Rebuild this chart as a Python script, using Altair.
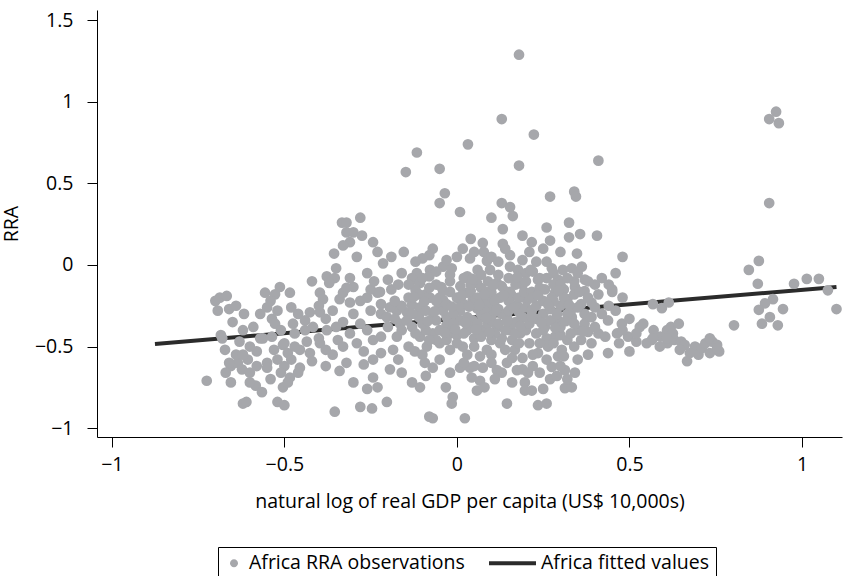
import altair as alt
import pandas as pd

# (log GDP per capita, RRA) observations
obs_points = [
    # x < -0.45
    (-0.725, -0.71), (-0.687, -0.20), (-0.667, -0.19), (-0.693, -0.28), (-0.66, -0.27),
    (-0.617, -0.30), (-0.65, -0.35), (-0.684, -0.43), (-0.68, -0.45), (-0.672, -0.52),
    (-0.655, -0.62), (-0.635, -0.60), (-0.623, -0.64), (-0.606, -0.58), (-0.58, -0.53),
    (-0.655, -0.72), (-0.62, -0.85), (-0.61, -0.84), (-0.583, -0.74), (-0.565, -0.78),
    (-0.52, -0.84), (-0.556, -0.17), (-0.527, -0.18), (-0.55, -0.26), (-0.536, -0.33),
    (-0.527, -0.36), (-0.562, -0.45), (-0.536, -0.44), (-0.55, -0.60), (-0.52, -0.58),
    (-0.55, -0.63), (-0.504, -0.75), (-0.504, -0.49), (-0.513, -0.135), (-0.484, -0.17),
    (-0.475, -0.36), (-0.50, -0.48), (-0.49, -0.54), (-0.50, -0.62), (-0.484, -0.69),
    (-0.49, -0.72), (-0.50, -0.86), (-0.455, -0.52), (-0.455, -0.63), (-0.51, -0.40),
    (-0.47, -0.42), (-0.46, -0.30),
    (-0.70, -0.22), (-0.64, -0.25), (-0.62, -0.40), (-0.63, -0.47), (-0.60, -0.50),
    (-0.64, -0.55), (-0.66, -0.60), (-0.60, -0.66), (-0.58, -0.62), (-0.57, -0.45),
    (-0.59, -0.38), (-0.57, -0.30), (-0.54, -0.22), (-0.52, -0.28), (-0.53, -0.52),
    (-0.54, -0.70), (-0.51, -0.66), (-0.60, -0.72), (-0.67, -0.66), (-0.62, -0.55),
    (-0.48, -0.58), (-0.47, -0.50), (-0.46, -0.66), (-0.48, -0.26), (-0.44, -0.40),
    (-0.44, -0.34),
    # -0.45 .. -0.15
    (-0.435, -0.47), (-0.426, -0.54), (-0.42, -0.59), (-0.426, -0.29), (-0.417, -0.38),
    (-0.397, -0.29), (-0.397, -0.17), (-0.388, -0.21), (-0.397, -0.48), (-0.377, -0.40),
    (-0.345, -0.46), (-0.354, -0.90), (-0.34, -0.21), (-0.31, -0.23), (-0.33, -0.17),
    (-0.26, -0.20), (-0.23, -0.17), (-0.22, -0.30), (-0.203, -0.32), (-0.174, -0.28),
    (-0.145, -0.29), (-0.165, -0.36), (-0.243, -0.46), (-0.22, -0.44), (-0.174, -0.44),
    (-0.185, -0.52), (-0.22, -0.54), (-0.27, -0.61), (-0.243, -0.58), (-0.194, -0.64),
    (-0.243, -0.69), (-0.23, -0.75), (-0.26, -0.76), (-0.28, -0.87), (-0.246, -0.88),
    (-0.203, -0.84), (-0.194, -0.26), (-0.333, 0.26), (-0.32, 0.26), (-0.28, 0.29),
    (-0.32, 0.20), (-0.30, 0.20), (-0.275, 0.18), (-0.31, 0.14), (-0.33, 0.12),
    (-0.356, 0.07), (-0.243, 0.14), (-0.214, 0.01), (-0.19, 0.05), (-0.154, 0.08),
    (-0.377, -0.07), (-0.354, -0.08), (-0.37, -0.11), (-0.30, -0.135), (-0.32, -0.14),
    (-0.25, -0.15), (-0.223, -0.165), (-0.13, -0.08),
    (-0.42, -0.10), (-0.40, -0.25), (-0.38, -0.33), (-0.36, -0.28), (-0.35, -0.38),
    (-0.33, -0.35), (-0.36, -0.55), (-0.33, -0.50), (-0.31, -0.42), (-0.30, -0.30),
    (-0.28, -0.22), (-0.28, -0.36), (-0.26, -0.40), (-0.25, -0.28), (-0.29, -0.48),
    (-0.27, -0.53), (-0.22, -0.24), (-0.20, -0.38), (-0.18, -0.33), (-0.16, -0.40),
    (-0.16, -0.25), (-0.19, -0.15), (-0.24, -0.10), (-0.26, -0.05), (-0.31, -0.08),
    (-0.35, -0.02), (-0.29, 0.05), (-0.23, 0.08), (-0.40, -0.45), (-0.38, -0.62),
    (-0.34, -0.65), (-0.32, -0.60), (-0.30, -0.72), (-0.17, -0.58), (-0.16, -0.66),
    (-0.14, -0.50), (-0.38, -0.52),
    # centre, upper part
    (0.18, 1.29), (0.13, 0.895), (0.223, 0.80), (0.032, 0.74), (-0.116, 0.69),
    (-0.05, 0.59), (-0.148, 0.57), (0.18, 0.61), (0.41, 0.64), (-0.035, 0.44),
    (-0.05, 0.38), (0.009, 0.325), (0.13, 0.38), (0.154, 0.355), (0.162, 0.30),
    (0.10, 0.29), (0.133, 0.22), (0.075, 0.135), (0.133, 0.13), (0.078, 0.08),
    (0.017, 0.10), (-0.07, 0.10), (-0.08, 0.06), (0.154, 0.06), (0.217, 0.14),
    (0.087, 0.025), (0.038, 0.04), (-0.04, -0.01), (-0.015, -0.02), (0.096, -0.03),
    (0.154, -0.01), (0.177, -0.03), (0.20, -0.05), (-0.116, -0.05), (-0.078, -0.03),
    (-0.127, -0.09), (0.03, -0.07), (0.058, -0.11), (0.116, -0.11), (-0.05, -0.20),
    (-0.107, -0.11),
    (-0.03, 0.03), (0.05, 0.08), (0.10, 0.05), (0.14, 0.10), (0.21, 0.08),
    (0.23, 0.02), (0.25, 0.10), (-0.10, 0.04), (0.04, 0.16), (0.19, 0.18),
    # centre, lower part
    (-0.13, -0.245), (-0.122, -0.53), (-0.093, -0.60), (-0.07, -0.63), (-0.13, -0.72),
    (-0.107, -0.75), (-0.08, -0.93), (-0.07, -0.94), (0.023, -0.94), (-0.032, -0.75),
    (-0.012, -0.81), (-0.015, -0.85), (0.009, -0.63), (0.043, -0.69), (0.058, -0.77),
    (0.067, -0.71), (0.075, -0.63), (0.038, -0.63), (0.116, -0.645), (0.145, -0.60),
    (0.174, -0.645), (0.197, -0.72), (0.197, -0.77), (0.145, -0.85), (0.087, -0.52),
    (0.125, -0.48), (0.168, -0.52), (0.067, -0.56), (0.017, -0.50), (-0.02, -0.52),
    (-0.05, -0.48), (-0.087, -0.50), (-0.107, -0.44), (-0.07, -0.42), (-0.02, -0.42),
    (0.03, -0.40), (0.075, -0.40), (0.116, -0.38), (0.154, -0.40), (0.183, -0.42),
    (-0.145, -0.34), (-0.107, -0.29), (-0.07, -0.325), (-0.03, -0.32), (0.009, -0.34),
    (0.046, -0.34), (0.075, -0.32), (0.104, -0.295), (0.145, -0.32), (0.174, -0.245),
    (0.203, -0.215), (0.125, -0.20), (0.087, -0.215), (0.046, -0.215), (0.009, -0.215),
    (-0.04, -0.215), (-0.078, -0.20), (-0.107, -0.26), (0.009, -0.28), (0.058, -0.265),
    (-0.05, -0.26), (-0.02, -0.165), (0.03, -0.17), (0.087, -0.165), (0.154, -0.165),
    (-0.12, -0.15), (-0.09, -0.18), (-0.06, -0.12), (-0.02, -0.10), (0.01, -0.13),
    (0.04, -0.16), (0.07, -0.14), (0.10, -0.17), (0.13, -0.13), (0.16, -0.19),
    (0.19, -0.12), (-0.04, -0.28), (0.02, -0.24), (0.06, -0.20), (0.09, -0.25),
    (0.12, -0.27), (0.15, -0.22), (0.18, -0.29), (-0.13, -0.38), (-0.09, -0.40),
    (-0.03, -0.37), (0.00, -0.43), (0.05, -0.45), (0.09, -0.36), (0.13, -0.45),
    (0.17, -0.35), (0.20, -0.40), (-0.11, -0.32), (-0.06, -0.46), (0.03, -0.55),
    (0.10, -0.55), (0.14, -0.52), (0.19, -0.57), (0.21, -0.48), (-0.01, -0.30),
    (0.04, -0.38), (0.07, -0.30), (0.11, -0.42), (0.16, -0.46), (-0.14, -0.20),
    (-0.17, -0.12), (-0.20, -0.09), (-0.18, -0.22), (-0.16, -0.05), (-0.12, 0.02),
    (-0.08, -0.07), (0.00, 0.05), (0.06, -0.03), (0.12, 0.02), (0.19, 0.03),
    (-0.14, -0.12), (-0.13, -0.30), (-0.12, -0.42), (-0.11, -0.18), (-0.10, -0.36),
    (-0.10, -0.08), (-0.09, -0.28), (-0.08, -0.46), (-0.08, -0.14), (-0.06, -0.22),
    (-0.06, -0.34), (-0.06, -0.04), (-0.05, -0.40), (-0.04, -0.16), (-0.03, -0.24),
    (-0.03, -0.46), (-0.02, -0.06), (-0.01, -0.36), (0.00, -0.20), (0.00, -0.48),
    (0.01, -0.26), (0.02, -0.08), (0.02, -0.42), (0.03, -0.32), (0.04, -0.12),
    (0.05, -0.24), (0.05, -0.50), (0.06, -0.36), (0.07, -0.06), (0.07, -0.44),
    (0.08, -0.18), (0.08, -0.28), (0.09, -0.10), (0.10, -0.34), (0.10, -0.46),
    (0.11, -0.22), (0.12, -0.06), (0.12, -0.36), (0.13, -0.30), (0.14, -0.16),
    (0.14, -0.40), (0.15, -0.08), (0.15, -0.28), (0.16, -0.36), (0.17, -0.12),
    (0.17, -0.42), (0.18, -0.20), (0.18, -0.48), (0.19, -0.32), (0.20, -0.26),
    (0.20, -0.10),
    (-0.125, -0.195), (-0.095, -0.225), (-0.085, -0.345), (-0.065, -0.285),
    (-0.045, -0.135), (-0.035, -0.415), (-0.015, -0.255), (-0.005, -0.395),
    (0.015, -0.185), (0.025, -0.355), (0.035, -0.255), (0.045, -0.085),
    (0.055, -0.395), (0.065, -0.245), (0.085, -0.325), (0.095, -0.415),
    (0.105, -0.125), (0.115, -0.275), (0.135, -0.185), (0.145, -0.345),
    (0.165, -0.265), (0.175, -0.075), (0.185, -0.375), (0.195, -0.165),
    (-0.10, -0.55), (-0.05, -0.58), (-0.02, -0.66), (0.02, -0.60), (0.05, -0.62),
    (0.10, -0.60), (0.13, -0.66), (0.16, -0.57), (0.19, -0.64), (0.11, -0.70),
    (0.08, -0.75), (0.16, -0.72), (-0.09, -0.68),
    # 0.2 .. 0.55
    (0.27, 0.42), (0.34, 0.45), (0.345, 0.42), (0.26, 0.23), (0.325, 0.26),
    (0.27, 0.15), (0.325, 0.17), (0.357, 0.19), (0.406, 0.18), (0.348, 0.07),
    (0.48, 0.05), (0.214, -0.03), (0.275, -0.02), (0.307, -0.03), (0.333, -0.02),
    (0.362, -0.01), (0.235, -0.09), (0.293, -0.09), (0.371, -0.09), (0.42, -0.08),
    (0.45, -0.15), (0.40, -0.12), (0.217, -0.165), (0.255, -0.15), (0.342, -0.135),
    (0.284, -0.17), (0.217, -0.28), (0.438, -0.34), (0.478, -0.36), (0.53, -0.38),
    (0.565, -0.46), (0.496, -0.44), (0.464, -0.42), (0.41, -0.42), (0.39, -0.48),
    (0.438, -0.54), (0.45, -0.165), (0.38, -0.41), (0.313, -0.755), (0.333, -0.75),
    (0.235, -0.86), (0.26, -0.85), (0.342, -0.66), (0.313, -0.645), (0.275, -0.625),
    (0.217, -0.77), (0.206, -0.66), (0.35, -0.58), (0.293, -0.56), (0.235, -0.54),
    (0.264, -0.50), (0.304, -0.52), (0.32, -0.46), (0.284, -0.44), (0.35, -0.40),
    (0.255, -0.38), (0.293, -0.34), (0.333, -0.32), (0.37, -0.30), (0.39, -0.23),
    (0.32, -0.21), (0.275, -0.20), (0.23, -0.25), (0.25, -0.30), (0.27, -0.27),
    (0.30, -0.25), (0.33, -0.28), (0.36, -0.24), (0.24, -0.08), (0.28, -0.12),
    (0.31, -0.15), (0.34, -0.10), (0.37, -0.16), (0.23, -0.42), (0.26, -0.45),
    (0.30, -0.43), (0.34, -0.50), (0.22, -0.55), (0.26, -0.58), (0.30, -0.62),
    (0.38, -0.55), (0.26, 0.02), (0.30, 0.08), (0.52, -0.47),
    (0.21, -0.36), (0.22, -0.20), (0.22, -0.04), (0.23, -0.33), (0.24, -0.14),
    (0.24, -0.48), (0.25, -0.22), (0.25, -0.40), (0.26, -0.08), (0.27, -0.34),
    (0.28, -0.05), (0.28, -0.22), (0.28, -0.48), (0.29, -0.30), (0.30, -0.12),
    (0.30, -0.38), (0.31, -0.20), (0.31, -0.56), (0.32, -0.08), (0.32, -0.30),
    (0.33, -0.42), (0.34, -0.18), (0.34, -0.36), (0.35, -0.26), (0.35, -0.05),
    (0.36, -0.46), (0.37, -0.36), (0.38, -0.20), (0.38, -0.10), (0.39, -0.32),
    (0.40, -0.26), (0.40, -0.38), (0.41, -0.18), (0.42, -0.30), (0.43, -0.44),
    (0.44, -0.25), (0.22, -0.62), (0.24, -0.66), (0.27, -0.70), (0.29, -0.68),
    (0.32, -0.70), (0.25, -0.76),
    (0.215, -0.315), (0.235, -0.185), (0.245, -0.355), (0.265, -0.245),
    (0.285, -0.385), (0.295, -0.155), (0.315, -0.345), (0.325, -0.245),
    (0.355, -0.165), (0.365, -0.405),
    (0.46, -0.28), (0.48, -0.40), (0.50, -0.33), (0.52, -0.42), (0.54, -0.36),
    (0.55, -0.48), (0.47, -0.48), (0.50, -0.53), (0.44, -0.12), (0.48, -0.20),
    (0.46, -0.05),
    # x > 0.55
    (0.57, -0.40), (0.59, -0.44), (0.61, -0.48), (0.62, -0.38), (0.63, -0.46),
    (0.65, -0.47), (0.66, -0.49), (0.69, -0.50), (0.70, -0.55), (0.74, -0.47),
    (0.76, -0.53), (0.71, -0.51),
    (0.925, 0.94), (0.905, 0.895), (0.933, 0.87), (0.905, 0.38), (0.875, 0.025),
    (0.846, -0.03), (0.872, -0.115), (0.977, -0.115), (1.014, -0.085), (1.049, -0.085),
    (1.075, -0.155), (1.10, -0.27), (0.916, -0.21), (0.893, -0.235), (0.875, -0.275),
    (0.945, -0.27), (0.907, -0.32), (0.884, -0.36), (0.93, -0.37), (0.803, -0.37),
    (0.568, -0.24), (0.594, -0.265), (0.614, -0.23), (0.643, -0.36), (0.609, -0.40),
    (0.626, -0.42), (0.568, -0.45), (0.588, -0.50), (0.609, -0.45), (0.646, -0.52),
    (0.675, -0.54), (0.667, -0.59), (0.72, -0.48), (0.733, -0.45), (0.754, -0.49),
    (0.733, -0.54), (0.754, -0.51),
]

fit_x = [-0.875, 1.10]
fit_y = [-0.485, -0.135]

series_names = ["Africa RRA observations", "Africa fitted values"]
series_colors = ["#a6a7ab", "#2b2b2b"]
x_ticks = [-1, -0.5, 0, 0.5, 1]
y_ticks = [-1, -0.5, 0, 0.5, 1, 1.5]

obs_df = pd.DataFrame({
    "gdp": [p[0] for p in obs_points],
    "rra": [p[1] for p in obs_points],
    "series": series_names[0],
})
fit_df = pd.DataFrame({"gdp": fit_x, "rra": fit_y, "series": series_names[1]})

FONT = "Open Sans"
FS = 19.5

x_enc = alt.X(
    "gdp:Q",
    scale=alt.Scale(domain=[-1.043, 1.116], nice=False, zero=False),
    axis=alt.Axis(values=x_ticks, format="~g",
                  title="natural log of real GDP per capita (US$ 10,000s)",
                  labelPadding=8, titlePadding=19),
)
y_enc = alt.Y(
    "rra:Q",
    scale=alt.Scale(domain=[-1.055, 1.564], nice=False, zero=False),
    axis=alt.Axis(values=y_ticks, format="~g", title="RRA",
                  labelPadding=14, titlePadding=13),
)

line = alt.Chart(fit_df).mark_line(color=series_colors[1], strokeWidth=4).encode(
    x=x_enc, y=y_enc
)

points = alt.Chart(obs_df).mark_circle(
    color=series_colors[0], size=115, opacity=1
).encode(x=x_enc, y=y_enc)

# legend symbols: small dot, and a long thick bar for the fitted line
circle_path = "M-0.4,0A0.4,0.4,0,1,1,0.4,0A0.4,0.4,0,1,1,-0.4,0Z"
bar_path = "M-3.7,-0.2H1V0.2H-3.7Z"

legend_cfg = dict(
    orient="none", legendX=121, legendY=537, direction="horizontal", title=None,
    strokeColor="black", padding=6, labelFont=FONT, labelFontSize=FS,
    labelColor="black", symbolSize=400, symbolStrokeWidth=0, labelOffset=5,
    columnPadding=24, labelLimit=400,
)

legend_layer = alt.Chart(fit_df).transform_filter("false").mark_point(
    filled=True, opacity=1
).encode(
    x=x_enc, y=y_enc,
    color=alt.Color("series:N", scale=alt.Scale(domain=series_names, range=series_colors),
                    legend=alt.Legend(**legend_cfg)),
    shape=alt.Shape("series:N", scale=alt.Scale(domain=series_names, range=[circle_path, bar_path]),
                    legend=alt.Legend(**legend_cfg)),
)

chart = alt.layer(line, points, legend_layer).properties(
    width=745, height=427,
    padding={"left": 97, "top": 10, "right": 2, "bottom": 139},
    autosize=alt.AutoSizeParams(type="none"),
).configure_view(stroke=None).configure_axis(
    grid=False, domainColor="black", domainWidth=1, tickColor="black", tickSize=10,
    tickWidth=1, labelFont=FONT, labelFontSize=FS, labelColor="black",
    titleFont=FONT, titleFontSize=FS, titleFontWeight="normal", titleColor="black",
)

chart.save("out.html", embed_options={"renderer": "svg", "actions": False})
